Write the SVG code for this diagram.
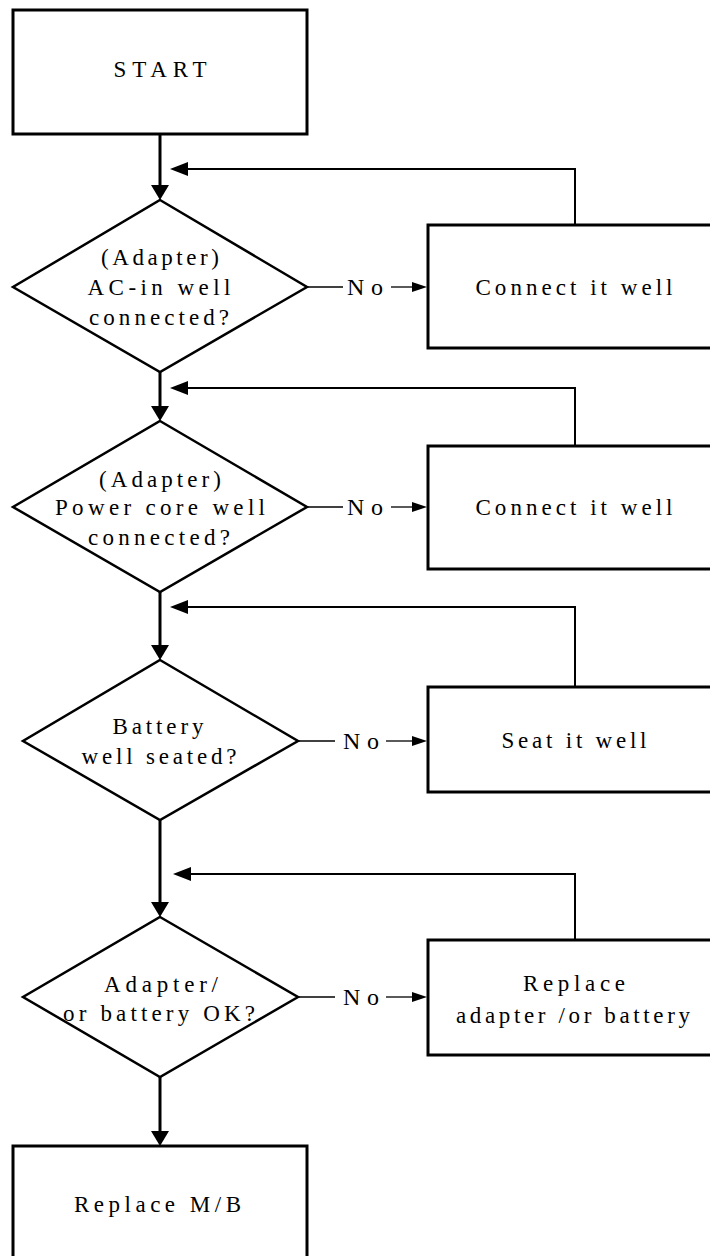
<svg xmlns="http://www.w3.org/2000/svg" width="710" height="1256" viewBox="0 0 710 1256">
<style>
.box{fill:#fff;stroke:#000;stroke-width:3}
.dia{fill:#fff;stroke:#000;stroke-width:2.5;stroke-linejoin:miter}
.t{font-family:"Liberation Serif","Times New Roman",serif;font-size:23px;fill:#000;text-anchor:middle}
.no{font-size:24px}
.main{stroke:#000;stroke-width:3;fill:none}
.fb{stroke:#000;stroke-width:2;fill:none}
.nol{stroke:#000;stroke-width:1.3;fill:none}
</style>
<defs>
<marker id="am" markerUnits="userSpaceOnUse" viewBox="0 0 15 18" refX="2" refY="9" markerWidth="15" markerHeight="18" orient="auto"><path d="M0,0 L15,9 L0,18 z" fill="#000"/></marker>
<marker id="af" markerUnits="userSpaceOnUse" viewBox="0 0 18 14" refX="2" refY="7" markerWidth="18" markerHeight="14" orient="auto"><path d="M0,0 L18,7 L0,14 z" fill="#000"/></marker>
<marker id="an" markerUnits="userSpaceOnUse" viewBox="0 0 15 10" refX="2" refY="5" markerWidth="15" markerHeight="10" orient="auto"><path d="M0,0 L15,5 L0,10 z" fill="#000"/></marker>
</defs>
<rect width="710" height="1256" fill="#fff"/>
<g id="connectors">
<line class="main" x1="160" y1="134" x2="160" y2="187" marker-end="url(#am)"/>
<line class="main" x1="160" y1="372" x2="160" y2="408" marker-end="url(#am)"/>
<line class="main" x1="160" y1="592" x2="160" y2="647" marker-end="url(#am)"/>
<line class="main" x1="160" y1="820" x2="160" y2="904" marker-end="url(#am)"/>
<line class="main" x1="160" y1="1077" x2="160" y2="1133" marker-end="url(#am)"/>
<polyline class="fb" points="575,225 575,169 186,169" marker-end="url(#af)"/>
<polyline class="fb" points="575,446 575,388 186,388" marker-end="url(#af)"/>
<polyline class="fb" points="575,687 575,607 186,607" marker-end="url(#af)"/>
<polyline class="fb" points="575,940 575,874 189,874" marker-end="url(#af)"/>
<line class="nol" x1="307" y1="287" x2="343" y2="287"/>
<line class="nol" x1="391" y1="287" x2="414" y2="287" marker-end="url(#an)"/>
<text class="t no" x="365" y="295" textLength="36" lengthAdjust="spacing">No</text>
<line class="nol" x1="307" y1="507" x2="343" y2="507"/>
<line class="nol" x1="391" y1="507" x2="414" y2="507" marker-end="url(#an)"/>
<text class="t no" x="365" y="515" textLength="36" lengthAdjust="spacing">No</text>
<line class="nol" x1="298" y1="741" x2="335" y2="741"/>
<line class="nol" x1="386" y1="741" x2="414" y2="741" marker-end="url(#an)"/>
<text class="t no" x="361" y="749" textLength="36" lengthAdjust="spacing">No</text>
<line class="nol" x1="298" y1="997" x2="335" y2="997"/>
<line class="nol" x1="386" y1="997" x2="414" y2="997" marker-end="url(#an)"/>
<text class="t no" x="361" y="1005" textLength="36" lengthAdjust="spacing">No</text>
</g>
<g id="start">
<rect class="box" x="13" y="10" width="294" height="124"/>
<text class="t" x="160" y="77" textLength="93" lengthAdjust="spacing">START</text>
</g>
<g id="ac-in">
<polygon class="dia" points="160,200 307,287 160,372 13,287"/>
<text class="t" x="160" y="265" textLength="118" lengthAdjust="spacing">(Adapter)</text>
<text class="t" x="159" y="295" textLength="143" lengthAdjust="spacing">AC-in well</text>
<text class="t" x="159" y="325" textLength="140" lengthAdjust="spacing">connected?</text>
</g>
<g id="connect1">
<rect class="box" x="428" y="225" width="292" height="123"/>
<text class="t" x="574" y="295" textLength="197" lengthAdjust="spacing">Connect it well</text>
</g>
<g id="power-core">
<polygon class="dia" points="160,421 307,507 160,592 13,507"/>
<text class="t" x="160" y="487" textLength="122" lengthAdjust="spacing">(Adapter)</text>
<text class="t" x="160" y="515" textLength="210" lengthAdjust="spacing">Power core well</text>
<text class="t" x="159" y="545" textLength="142" lengthAdjust="spacing">connected?</text>
</g>
<g id="connect2">
<rect class="box" x="428" y="446" width="292" height="123"/>
<text class="t" x="574" y="515" textLength="197" lengthAdjust="spacing">Connect it well</text>
</g>
<g id="battery">
<polygon class="dia" points="160,660 298,741 160,820 23,741"/>
<text class="t" x="158" y="734" textLength="91" lengthAdjust="spacing">Battery</text>
<text class="t" x="159" y="764" textLength="155" lengthAdjust="spacing">well seated?</text>
</g>
<g id="seat">
<rect class="box" x="428" y="687" width="292" height="105"/>
<text class="t" x="574" y="748" textLength="145" lengthAdjust="spacing">Seat it well</text>
</g>
<g id="adapter-ok">
<polygon class="dia" points="160,917 298,997 160,1077 23,997"/>
<text class="t" x="161" y="992" textLength="114" lengthAdjust="spacing">Adapter/</text>
<text class="t" x="159" y="1021" textLength="192" lengthAdjust="spacing">or battery OK?</text>
</g>
<g id="replace-adapter">
<rect class="box" x="428" y="940" width="292" height="115"/>
<text class="t" x="574" y="991" textLength="102" lengthAdjust="spacing">Replace</text>
<text class="t" x="573" y="1023" textLength="234" lengthAdjust="spacing">adapter /or battery</text>
</g>
<g id="replace-mb">
<rect class="box" x="13" y="1146" width="294" height="130"/>
<text class="t" x="157.5" y="1212" textLength="167" lengthAdjust="spacing">Replace M/B</text>
</g>
</svg>
